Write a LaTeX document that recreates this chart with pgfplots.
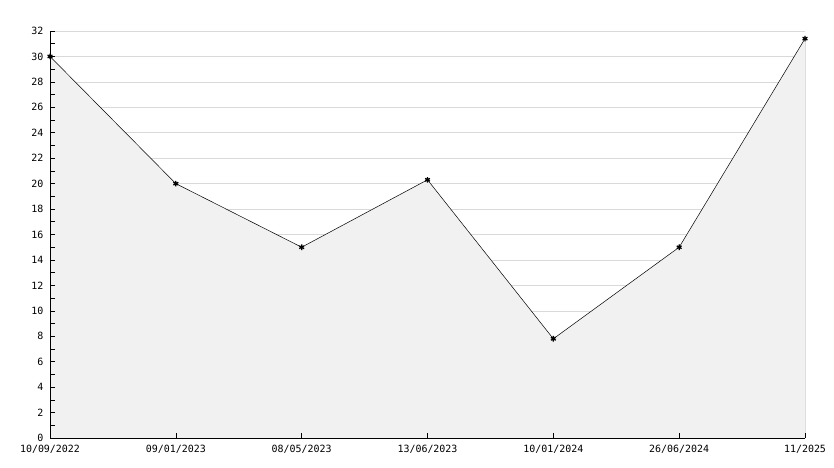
\documentclass[border=0pt]{standalone}
\usepackage{fontspec}
\setmainfont{DejaVu Sans Mono}
\usepackage{pgfplots}
\pgfplotsset{compat=1.18}
\definecolor{areafill}{HTML}{F1F1F1}
\definecolor{gridgray}{HTML}{D9D9D9}
\pgfplotsset{frame/.style={
  at={(0,0)}, anchor=south west,
  scale only axis, width=755bp, height=407bp,
  xmin=0, xmax=6, ymin=0, ymax=32,
  axis x line*=bottom, axis y line*=left,
  axis line style={-, black},
  xtick={0,1,2,3,4,5,6},
  ytick={0,2,...,32},
}}
\begin{document}
\begin{tikzpicture}
\useasboundingbox (-50bp,-30bp) rectangle (784bp,438bp);
% grid and data: the filled area hides the grid
\begin{axis}[frame,
  ymajorgrids, major grid style={gridgray, line width=0.6pt},
  major tick length=0pt, xticklabels={}, yticklabels={},
]
\addplot[fill=areafill, draw=none] coordinates {
  (0,30) (1,20) (2,15) (3,20.3) (4,7.8) (5,15) (6,31.4)
} \closedcycle;
\addplot[black, line width=0.5pt, mark=asterisk, mark size=2.8bp,
  mark options={line width=1.3pt}] coordinates {
  (0,30) (1,20) (2,15) (3,20.3) (4,7.8) (5,15) (6,31.4)
};
\addplot[black, line width=0.8pt] coordinates {(6,0) (6,31.4)};
\end{axis}
% ticks and labels on top
\begin{axis}[frame,
  xticklabels={10/09/2022,09/01/2023,08/05/2023,13/06/2023,10/01/2024,26/06/2024,11/2025},
  minor ytick={1,3,...,31},
  tick align=inside,
  major tick length=5bp, minor tick length=5bp,
  tick style={black, line width=0.6pt},
  tick label style={font=\fontsize{10}{11}\selectfont, black},
  /pgf/number format/assume math mode=true,
  xticklabel style={yshift=-4bp},
  yticklabel style={xshift=-3bp},
]
\end{axis}
\end{tikzpicture}
\end{document}
